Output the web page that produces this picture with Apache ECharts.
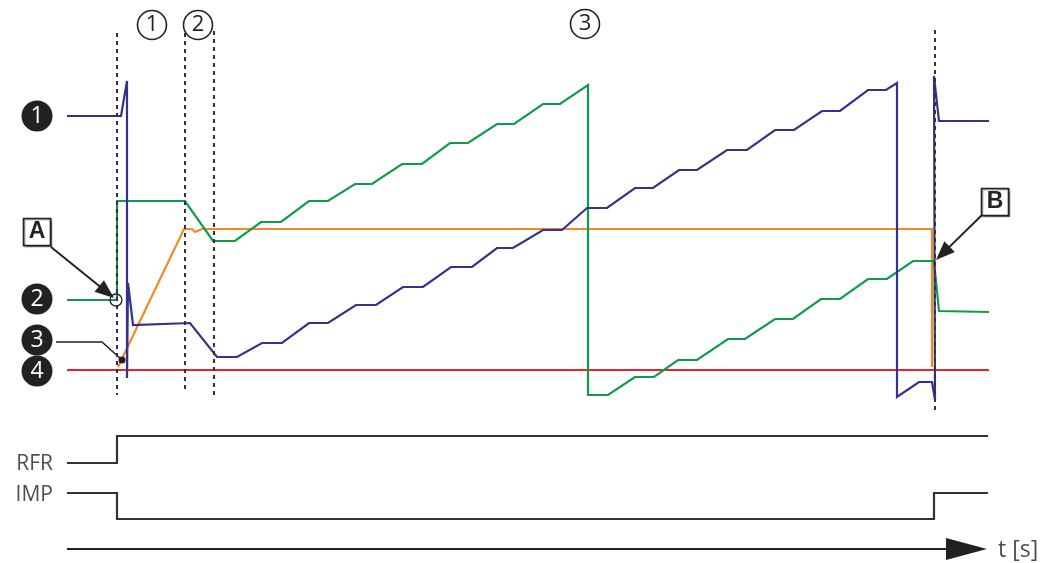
<!DOCTYPE html>
<html>
<head>
<meta charset="utf-8">
<script src="https://cdn.jsdelivr.net/npm/echarts@6/dist/echarts.min.js"></script>
<style>html,body{margin:0;padding:0;background:#fff}#c{width:1042px;height:563px}</style>
</head>
<body>
<div id="c"></div>
<script>
// Diagram values (time position, level)
const trace1 = [[67,116],[121,116],[127,81],[127,378],[128,283],[133,325],[190,323],[217,357],[237,357],[262,343],[282,343],[309,323],[328,323],[356,305],[376,305],[403,287],[423,287],[451,267],[472,267],[497,248],[513,248],[543,230],[562,230],[587,208],[607,208],[635,188],[653,188],[679,170],[697,170],[727,150],[747,150],[775,130],[794,130],[822,111],[840,111],[868,90],[886,90],[897,83],[897,397],[919,382],[932,382],[935,400],[934,76],[939,121],[989,121]];
const trace2 = [[67,300],[113,300],[117,300],[117,201],[185,201],[213,241],[235,241],[261,222],[281,222],[309,201],[328,201],[355,184],[372,184],[402,164],[422,164],[450,143],[468,143],[497,124],[514,124],[543,104],[560,104],[588,85],[588,395],[608,395],[635,377],[654,377],[678,360],[697,360],[728,339],[745,339],[775,319],[793,319],[821,299],[840,299],[868,279],[887,279],[913,261],[934,261],[939,311],[989,312]];
const trace3 = [[118,367],[184,229],[192,229],[195,232],[202,229],[932,229],[932,367]];
const trace4 = [[67,370],[989,370]];
const signalRFR = [[67,463],[117,463],[117,436],[988,436]];
const signalIMP = [[67,493],[117,493],[117,519],[934,519],[934,493],[988,493]];
const phaseMarkers = [117,185,214,935];
const phaseMarkerTop = [33,33,31,30];
const phaseMarkerBottom = [395,392,395,411];
const traceNumbers = ['1','2','3','4'];
const traceNumberPos = [[37,116],[37,299],[37,340],[37,371]];
const phaseNumbers = ['1','2','3'];
const phaseNumberPos = [[152,25],[198,25],[585,24]];
const calloutLabels = ['A','B'];
const calloutPos = [[37,232],[995,202]];
const calloutArrows = [[51,247,114,298],[982,215,936,260]];
const timeAxis = [[67,549,987,549]];
const leader3 = [[56,342],[102,342],[122,360]];
const pointA = [[116,300]];
const point3 = [[122,360]];
const signalLabels = ['RFR','IMP','t [s]'];
const signalLabelPos = [[53,464],[53,495],[998,550]];

const FONT = '"Open Sans", "Liberation Sans", sans-serif';
const DARK = '#222';

function lineSeries(data, color, width, z, type) {
  return {type:'line', data:data, symbol:'none', silent:true, animation:false, z:z||2,
    lineStyle:{color:color, width:width, type:type||'solid', cap:'butt', join:'miter', opacity:1}};
}

function arrowSeries(data, headLen, headW, width, z) {
  return {type:'custom', animation:false, silent:true, z:z||5, data:data,
    renderItem:function(params, api){
      const p1 = api.coord([api.value(0), api.value(1)]);
      const p2 = api.coord([api.value(2), api.value(3)]);
      const dx = p2[0]-p1[0], dy = p2[1]-p1[1];
      const L = Math.sqrt(dx*dx+dy*dy); const ux = dx/L, uy = dy/L;
      const bx = p2[0]-ux*headLen, by = p2[1]-uy*headLen;
      const nx = -uy, ny = ux;
      return {type:'group', children:[
        {type:'line', shape:{x1:p1[0],y1:p1[1],x2:bx+ux*2,y2:by+uy*2}, style:{stroke:DARK, lineWidth:width}},
        {type:'polygon', shape:{points:[[p2[0],p2[1]],[bx+nx*headW/2,by+ny*headW/2],[bx-nx*headW/2,by-ny*headW/2]]}, style:{fill:DARK}}
      ]};
    }};
}

const series = [];
series.push(lineSeries(trace4, '#e8232f', 2.2, 2));
series.push(lineSeries(trace3, '#f08a22', 2.2, 3));
series.push(lineSeries(trace2, '#0e9c4a', 2.2, 3));
series.push(lineSeries(trace1, '#33338f', 2.2, 4));
series.push(lineSeries(signalRFR, '#333', 2.2, 2));
series.push(lineSeries(signalIMP, '#333', 2.2, 2));
series.push(lineSeries(leader3, DARK, 1.6, 5));
phaseMarkers.forEach(function(x,i){
  series.push(lineSeries([[x,phaseMarkerTop[i]],[x,phaseMarkerBottom[i]]], '#333', 2, 6, [4,4]));
});
series.push(arrowSeries(timeAxis, 41, 22, 1.8, 5));
series.push(arrowSeries(calloutArrows, 19, 15, 2, 7));
// open circle A and dot 3
series.push({type:'scatter', data:pointA, symbol:'circle', symbolSize:12, silent:true, animation:false, z:8,
  itemStyle:{color:'rgba(0,0,0,0)', borderColor:DARK, borderWidth:1.3, opacity:1}});
series.push({type:'scatter', data:point3, symbol:'circle', symbolSize:7, silent:true, animation:false, z:8,
  itemStyle:{color:DARK, opacity:1}});
// numbered black circles
series.push({type:'scatter', silent:true, animation:false, z:9, symbol:'circle', symbolSize:31,
  data:traceNumbers.map(function(n,i){return {name:n, value:traceNumberPos[i]};}),
  itemStyle:{color:'#222', opacity:1},
  label:{show:true, position:'inside', formatter:'{b}', color:'#fff', fontSize:23, fontFamily:FONT}});
// circled phase numbers
series.push({type:'scatter', silent:true, animation:false, z:9, symbol:'circle', symbolSize:29,
  data:phaseNumbers.map(function(n,i){return {name:n, value:phaseNumberPos[i]};}),
  itemStyle:{color:'#fff', borderColor:DARK, borderWidth:1.6, opacity:1},
  label:{show:true, position:'inside', formatter:'{b}', color:DARK, fontSize:22, fontFamily:FONT}});
// callout boxes
series.push({type:'scatter', silent:true, animation:false, z:9, symbol:'rect', symbolSize:27,
  data:calloutLabels.map(function(n,i){return {name:n, value:calloutPos[i]};}),
  itemStyle:{color:'#fff', borderColor:DARK, borderWidth:1.6, opacity:1, shadowColor:'rgba(0,0,0,0.4)', shadowBlur:1, shadowOffsetX:1, shadowOffsetY:1},
  label:{show:true, position:'inside', formatter:'{b}', color:'#222', fontSize:23, fontWeight:'bold', fontFamily:'"Liberation Sans", Arial, sans-serif'}});
// text labels
series.push({type:'scatter', silent:true, animation:false, z:9, symbol:'circle', symbolSize:0,
  data:signalLabels.map(function(n,i){return {name:n, value:signalLabelPos[i],
    label:{align: i<2 ? 'right' : 'left', fontSize: i<2 ? 21 : 23}};}),
  itemStyle:{color:'rgba(0,0,0,0)'},
  label:{show:true, position:'inside', formatter:'{b}', color:'#222', fontSize:21, fontFamily:FONT, verticalAlign:'middle'}});

const chart = echarts.init(document.getElementById('c'), null, {renderer:'canvas'});
chart.setOption({
  animation:false,
  backgroundColor:'#fff',
  grid:{left:0, right:0, top:0, bottom:0},
  xAxis:{type:'value', min:0, max:1042, show:false},
  yAxis:{type:'value', min:0, max:563, inverse:true, show:false},
  series:series
});
</script>
</body>
</html>
